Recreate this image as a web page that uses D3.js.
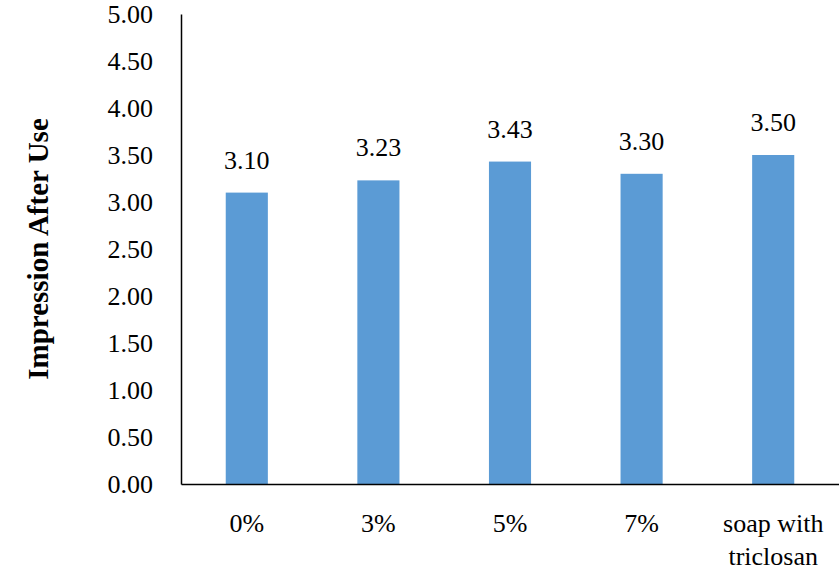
<!DOCTYPE html>
<html><head><meta charset="utf-8">
<script src="https://cdn.jsdelivr.net/npm/d3@7"></script>
<style>body{margin:0;background:#fff} text{font-family:'Liberation Serif',serif}</style>
</head><body>
<script>
// data
var categories = ['0%', '3%', '5%', '7%', 'soap with|triclosan']
var values = [3.10, 3.23, 3.43, 3.30, 3.50]
var yTicks = [0, 0.5, 1, 1.5, 2, 2.5, 3, 3.5, 4, 4.5, 5]

var serif = 'Liberation Serif'
var margin = {top: 14, right: 0, bottom: 100, left: 181}
var width = 839 - margin.left - margin.right
var height = 584 - margin.top - margin.bottom

var svg = d3.select('body').append('svg').attr('width', 839).attr('height', 584)
var g = svg.append('g').attr('transform', 'translate(' + margin.left + ',' + margin.top + ')')

var x = d3.scaleBand().domain(categories).range([0, width]).paddingInner(0.68).paddingOuter(0.34)
var y = d3.scaleLinear().domain([0, 5]).range([height, 0])

// bars
g.selectAll('rect').data(values).enter().append('rect')
  .attr('x', function (d, i) { return x(categories[i]) })
  .attr('y', function (d) { return y(d) })
  .attr('width', x.bandwidth())
  .attr('height', function (d) { return height - y(d) })
  .attr('fill', '#5B9BD5')

// value labels
g.selectAll('.val').data(values).enter().append('text')
  .attr('x', function (d, i) { return x(categories[i]) + x.bandwidth() / 2 })
  .attr('y', function (d) { return y(d) - 24 })
  .attr('text-anchor', 'middle').attr('font-size', 26).attr('font-family', serif)
  .text(function (d) { return d.toFixed(2) })

// y axis
var yAxis = g.append('g').call(d3.axisLeft(y).tickValues(yTicks).tickSize(0).tickPadding(28)
  .tickFormat(function (d) { return d.toFixed(2) }))
yAxis.attr('font-family', serif).attr('font-size', 26)
yAxis.selectAll('text').attr('fill', '#000')
yAxis.select('.domain').attr('stroke', '#000').attr('stroke-width', 1.5)

// x axis
var xAxis = g.append('g').attr('transform', 'translate(0,' + height + ')')
  .call(d3.axisBottom(x).tickSize(0).tickFormat(''))
xAxis.attr('font-family', serif).attr('font-size', 26)
xAxis.select('.domain').attr('stroke', '#000').attr('stroke-width', 1.5)
xAxis.selectAll('.tick').each(function (d) {
  var t = d3.select(this).append('text').attr('fill', '#000')
    .attr('text-anchor', 'middle')
  d.split('|').forEach(function (s, i) {
    t.append('tspan').attr('x', 0).attr('y', 48 + i * 33).text(s)
  })
})

// y title
svg.append('text')
  .attr('transform', 'translate(48,' + (margin.top + height / 2) + ') rotate(-90)')
  .attr('text-anchor', 'middle').attr('font-size', 29).attr('font-weight', 'bold')
  .attr('font-family', serif)
  .text('Impression After Use')
</script>
</body></html>
